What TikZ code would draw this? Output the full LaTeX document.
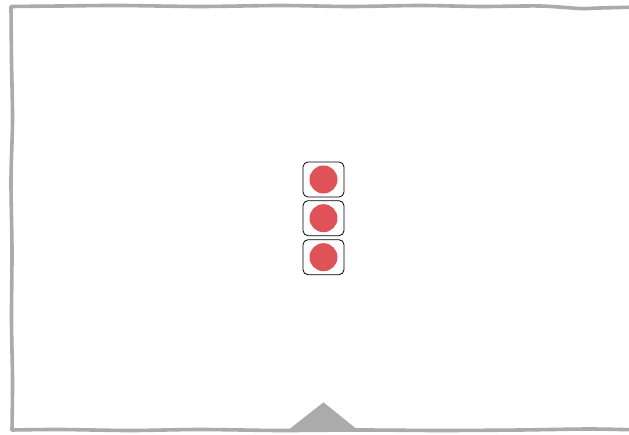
\documentclass[tikz,border=0pt]{standalone}
\begin{document}
\begin{tikzpicture}[x=1pt,y=-1pt,
  frameline/.style={draw=black!33, line width=3.6pt, line join=round},
  lightbox/.style={draw=black, line width=0.8pt, rounded corners=5pt, fill=white, minimum width=41pt, minimum height=35pt, inner sep=0pt},
  redlamp/.style={circle, fill=lampred, minimum size=28pt, inner sep=0pt}]
\definecolor{lampred}{HTML}{DF5358}
\useasboundingbox (0,0) rectangle (629,435);
\fill[white] (0,0) rectangle (629,435);
% hand-drawn frame
\draw[frameline] plot[smooth] coordinates {(640,7) (600,8) (580,8.5) (540,6) (480,6.5) (420,5.5) (350,6.5) (280,5.5) (200,6.5) (120,5.5) (60,6) (11,6.5)}
  -- plot[smooth] coordinates {(11,6.5) (11.5,60) (12.5,120) (11,180) (12,250) (11.5,320) (12.5,380) (12,430)}
  -- plot[smooth] coordinates {(12,430) (60,429.5) (130,430.5) (200,429.5) (280,430.5) (360,430) (440,430.5) (520,430) (590,429) (640,430)};
% triangle
\coordinate (tipapex) at (323.5,402.3);
\coordinate (tipleft) at (287,431);
\coordinate (tipright) at (359,431);
\fill[black!33] (tipleft) -- (tipapex) -- (tipright) -- cycle;
% lights
\node[lightbox] (b1) at (323.5,179.5) {};
\node[lightbox] (b2) at (323.5,218.2) {};
\node[lightbox] (b3) at (323.5,257.2) {};
\node[redlamp] (l1) at (b1.center) {};
\node[redlamp] (l2) at (b2.center) {};
\node[redlamp] (l3) at (b3.center) {};
\end{tikzpicture}
\end{document}
